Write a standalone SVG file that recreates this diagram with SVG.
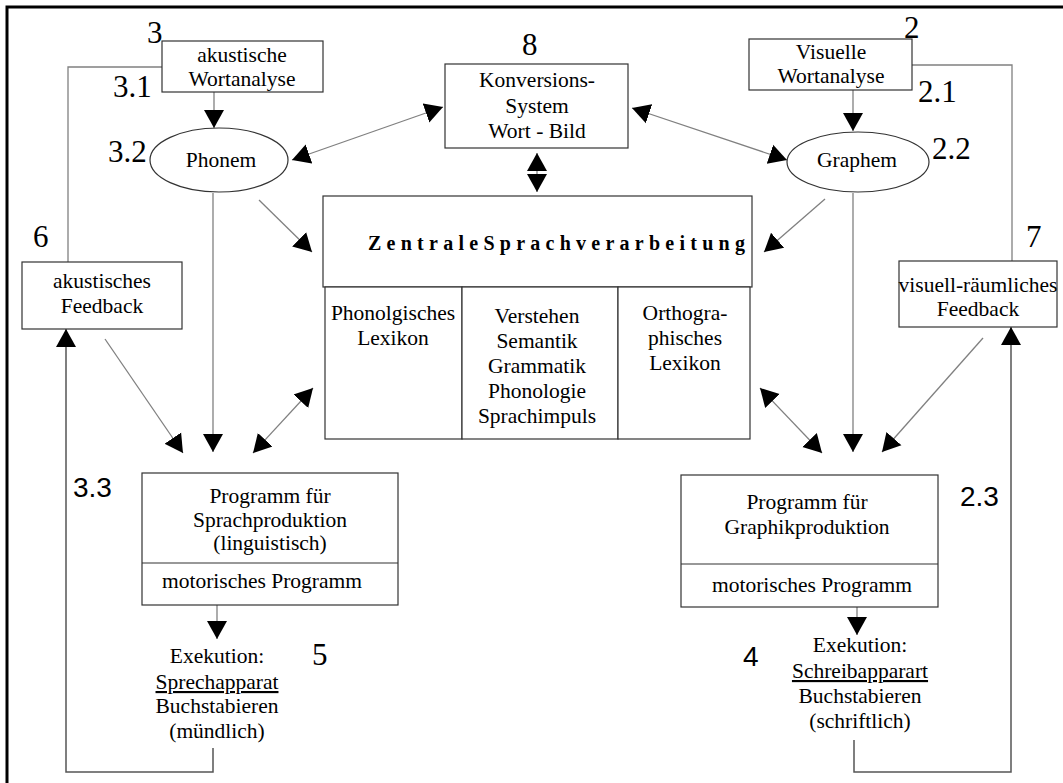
<svg xmlns="http://www.w3.org/2000/svg" width="1063" height="783" viewBox="0 0 1063 783">
<defs>
<style>
.t{font-family:"Liberation Serif","Times New Roman",serif;font-size:21.5px;fill:#000;text-anchor:middle}
.n{font-family:"Liberation Serif","Times New Roman",serif;font-size:31px;fill:#000}
.ns{font-family:"Liberation Sans",Arial,sans-serif;font-size:28px;fill:#000}
.box{fill:#fff;stroke:#333;stroke-width:1.2}
.c{fill:none;stroke:#808080;stroke-width:1.3}
.ca{fill:none;stroke:#808080;stroke-width:1.3;marker-end:url(#ah)}
.cb{fill:none;stroke:#808080;stroke-width:1.3;marker-start:url(#ah);marker-end:url(#ah)}
.loop{fill:none;stroke:#555;stroke-width:1.5}
</style>
<marker id="ah" markerUnits="userSpaceOnUse" markerWidth="20" markerHeight="22" refX="18" refY="10" orient="auto-start-reverse" viewBox="0 0 20 20">
<path d="M0,0 L18,10 L0,20 z" fill="#000"/>
</marker>
</defs>
<rect width="1063" height="783" fill="#fff"/>
<path d="M7,783 V7 H1063" fill="none" stroke="#000" stroke-width="3"/>

<g id="connectors">
<line class="ca" x1="214" y1="92" x2="214" y2="128"/>
<line class="ca" x1="853" y1="90" x2="853" y2="131"/>
<line class="cb" x1="292" y1="160" x2="443" y2="107"/>
<line class="cb" x1="632" y1="108" x2="787" y2="160"/>
<line class="cb" x1="537" y1="153" x2="537" y2="192"/>
<line class="ca" x1="259" y1="200" x2="312" y2="252"/>
<line class="ca" x1="825" y1="199" x2="764" y2="252"/>
<line class="ca" x1="213" y1="193" x2="213" y2="452"/>
<line class="ca" x1="853" y1="193" x2="853" y2="452"/>
<line class="ca" x1="105" y1="339" x2="183" y2="453"/>
<line class="cb" x1="313" y1="388" x2="253" y2="453"/>
<line class="cb" x1="760" y1="388" x2="822" y2="453"/>
<line class="ca" x1="983" y1="338" x2="882" y2="452"/>
<line class="ca" x1="217" y1="605" x2="217" y2="639"/>
<line class="ca" x1="857" y1="607" x2="857" y2="635"/>
<polyline class="c" points="162,67 68,67 68,262"/>
<polyline class="c" points="912,65 1012,65 1012,261"/>
<polyline class="loop" points="213,748 213,772 66,772 66,329" style="marker-end:url(#ah)"/>
<polyline class="loop" points="854,740 854,772 1011,772 1011,327" style="marker-end:url(#ah)"/>
</g>

<g id="akustische-wortanalyse">
<rect class="box" x="162" y="41" width="161" height="51"/>
<text class="t" x="242" y="62">akustische</text>
<text class="t" x="242" y="86">Wortanalyse</text>
</g>
<g id="visuelle-wortanalyse">
<rect class="box" x="749" y="39" width="163" height="51"/>
<text class="t" x="831" y="59">Visuelle</text>
<text class="t" x="831" y="83">Wortanalyse</text>
</g>
<g id="konversions-system">
<rect class="box" x="445" y="64" width="183" height="84"/>
<text class="t" x="537" y="87">Konversions-</text>
<text class="t" x="537" y="113">System</text>
<text class="t" x="537" y="138">Wort - Bild</text>
</g>
<g id="phonem">
<ellipse class="box" cx="219" cy="160" rx="69" ry="32"/>
<text class="t" x="221" y="167">Phonem</text>
</g>
<g id="graphem">
<ellipse class="box" cx="858" cy="162" rx="71" ry="30"/>
<text class="t" x="857" y="167">Graphem</text>
</g>
<g id="zentrale">
<rect class="box" x="323" y="196" width="429" height="91"/>
<text x="368" y="250" textLength="377" lengthAdjust="spacing" style="font-family:'Liberation Serif','Times New Roman',serif;font-size:20px;font-weight:bold">ZentraleSprachverarbeitung</text>
</g>
<g id="phonologisches-lexikon">
<rect class="box" x="325" y="287" width="137" height="152"/>
<text class="t" x="393" y="320">Phonolgisches</text>
<text class="t" x="393" y="345">Lexikon</text>
</g>
<g id="verstehen">
<rect class="box" x="462" y="287" width="156" height="152"/>
<text class="t" x="537" y="323">Verstehen</text>
<text class="t" x="537" y="348">Semantik</text>
<text class="t" x="537" y="373">Grammatik</text>
<text class="t" x="537" y="398">Phonologie</text>
<text class="t" x="537" y="423">Sprachimpuls</text>
</g>
<g id="orthographisches-lexikon">
<rect class="box" x="618" y="287" width="132" height="152"/>
<text class="t" x="685" y="320">Orthogra-</text>
<text class="t" x="685" y="345">phisches</text>
<text class="t" x="685" y="370">Lexikon</text>
</g>
<g id="akustisches-feedback">
<rect class="box" x="22" y="262" width="160" height="67"/>
<text class="t" x="102" y="288">akustisches</text>
<text class="t" x="102" y="313">Feedback</text>
</g>
<g id="visuell-feedback">
<rect class="box" x="899" y="261" width="158" height="66"/>
<text class="t" x="978" y="292">visuell-räumliches</text>
<text class="t" x="978" y="316">Feedback</text>
</g>
<g id="sprachproduktion">
<rect class="box" x="142" y="473" width="256" height="132"/>
<line x1="142" y1="563" x2="398" y2="563" stroke="#333" stroke-width="1.2"/>
<text class="t" x="270" y="503">Programm für</text>
<text class="t" x="270" y="527">Sprachproduktion</text>
<text class="t" x="270" y="550">(linguistisch)</text>
<text class="t" x="262" y="588">motorisches Programm</text>
</g>
<g id="graphikproduktion">
<rect class="box" x="681" y="475" width="257" height="132"/>
<line x1="681" y1="564" x2="938" y2="564" stroke="#333" stroke-width="1.2"/>
<text class="t" x="807" y="509">Programm für</text>
<text class="t" x="807" y="534">Graphikproduktion</text>
<text class="t" x="812" y="592">motorisches Programm</text>
</g>
<g id="exekution-sprech">
<text class="t" x="217" y="663">Exekution:</text>
<text class="t" x="217" y="689" text-decoration="underline">Sprechapparat</text>
<text class="t" x="217" y="713">Buchstabieren</text>
<text class="t" x="217" y="738">(mündlich)</text>
</g>
<g id="exekution-schreib">
<text class="t" x="860" y="652">Exekution:</text>
<text class="t" x="860" y="678" text-decoration="underline">Schreibapparart</text>
<text class="t" x="860" y="703">Buchstabieren</text>
<text class="t" x="860" y="728">(schriftlich)</text>
</g>
<g id="labels">
<text class="n" x="147" y="43">3</text>
<text class="n" x="113" y="97">3.1</text>
<text class="n" x="108" y="162">3.2</text>
<text class="n" x="33" y="247">6</text>
<text class="n" x="522" y="55">8</text>
<text class="n" x="904" y="38">2</text>
<text class="n" x="918" y="102">2.1</text>
<text class="n" x="932" y="159">2.2</text>
<text class="n" x="1026" y="247">7</text>
<text class="ns" x="73" y="497">3.3</text>
<text class="ns" x="960" y="506">2.3</text>
<text class="n" x="312" y="665">5</text>
<text class="ns" x="743" y="666">4</text>
</g>
</svg>
